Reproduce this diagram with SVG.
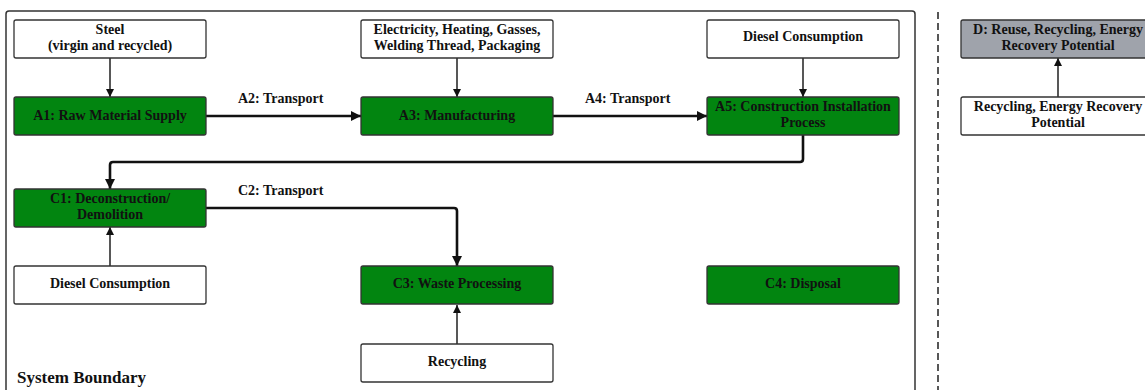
<svg xmlns="http://www.w3.org/2000/svg" width="1145" height="390" viewBox="0 0 1145 390">
<defs>
<marker id="ah" viewBox="0 0 10 10" refX="10" refY="5" markerWidth="8" markerHeight="8" markerUnits="userSpaceOnUse" orient="auto"><path d="M0,0 L10,5 L0,10 z" fill="#111"/></marker>
<marker id="ahb" viewBox="0 0 10 10" refX="10" refY="5" markerWidth="10" markerHeight="10" markerUnits="userSpaceOnUse" orient="auto"><path d="M0,0 L10,5 L0,10 z" fill="#111"/></marker>
<style>
.box{stroke:#333;stroke-width:1.3}
.w{fill:#fff}
.g{fill:#028510}
.d{fill:#9fa3ab}
text{font-family:'Liberation Serif','DejaVu Serif',serif;font-weight:bold;font-size:14px;fill:#111;text-anchor:middle}
.lbl{text-anchor:start}
.thin{fill:none;stroke:#111;stroke-width:1.4}
.thick{fill:none;stroke:#111;stroke-width:2.6}
</style>
</defs>
<rect x="6" y="11" width="909" height="400" rx="3" fill="none" stroke="#333" stroke-width="1.5"/>
<line x1="938" y1="12" x2="938" y2="390" stroke="#111" stroke-width="1.4" stroke-dasharray="7,4"/>
<text class="lbl" x="17" y="383" style="font-size:17px">System Boundary</text>

<g id="connectors">
<path class="thin" d="M110,58 V97" marker-end="url(#ah)"/>
<path class="thick" d="M206,116 H361" marker-end="url(#ahb)"/>
<path class="thin" d="M457,58 V97" marker-end="url(#ah)"/>
<path class="thick" d="M553,116 H707" marker-end="url(#ahb)"/>
<path class="thin" d="M803,58 V97" marker-end="url(#ah)"/>
<path class="thick" d="M803,135 V159 Q803,162 800,162 H113 Q110,162 110,165 V189" marker-end="url(#ahb)"/>
<path class="thick" d="M206,208 H454 Q457,208 457,211 V266" marker-end="url(#ahb)"/>
<path class="thin" d="M110,266 V227" marker-end="url(#ah)"/>
<path class="thin" d="M457,344 V305" marker-end="url(#ah)"/>
<path class="thin" d="M1058,97 V58" marker-end="url(#ah)"/>
<text class="lbl" x="238" y="103">A2: Transport</text>
<text class="lbl" x="585" y="103">A4: Transport</text>
<text class="lbl" x="238" y="195">C2: Transport</text>
</g>

<g id="steel"><rect class="box w" x="14" y="20" width="192" height="38" rx="2"/><text x="110" y="34">Steel</text><text x="110" y="50">(virgin and recycled)</text></g>
<g id="a1"><rect class="box g" x="14" y="97" width="192" height="38" rx="2"/><text x="110" y="120">A1: Raw Material Supply</text></g>
<g id="inputs"><rect class="box w" x="361" y="20" width="192" height="38" rx="2"/><text x="457" y="34">Electricity, Heating, Gasses,</text><text x="457" y="50">Welding Thread, Packaging</text></g>
<g id="a3"><rect class="box g" x="361" y="97" width="192" height="38" rx="2"/><text x="457" y="120">A3: Manufacturing</text></g>
<g id="diesel1"><rect class="box w" x="707" y="20" width="192" height="38" rx="2"/><text x="803" y="41">Diesel Consumption</text></g>
<g id="a5"><rect class="box g" x="707" y="97" width="192" height="38" rx="2"/><text x="803" y="111">A5: Construction Installation</text><text x="803" y="127">Process</text></g>
<g id="c1"><rect class="box g" x="14" y="189" width="192" height="38" rx="2"/><text x="110" y="203">C1: Deconstruction/</text><text x="110" y="219">Demolition</text></g>
<g id="diesel2"><rect class="box w" x="14" y="266" width="192" height="38" rx="2"/><text x="110" y="288">Diesel Consumption</text></g>
<g id="c3"><rect class="box g" x="361" y="266" width="192" height="38" rx="2"/><text x="457" y="288">C3: Waste Processing</text></g>
<g id="c4"><rect class="box g" x="707" y="266" width="192" height="38" rx="2"/><text x="803" y="288">C4: Disposal</text></g>
<g id="recycling"><rect class="box w" x="361" y="344" width="192" height="38" rx="2"/><text x="457" y="366">Recycling</text></g>
<g id="d"><rect class="box d" x="961" y="20" width="194" height="38" rx="2"/><text x="1058" y="34">D: Reuse, Recycling, Energy</text><text x="1058" y="50">Recovery Potential</text></g>
<g id="rer"><rect class="box w" x="961" y="97" width="194" height="38" rx="2"/><text x="1058" y="111">Recycling, Energy Recovery</text><text x="1058" y="127">Potential</text></g>
</svg>
